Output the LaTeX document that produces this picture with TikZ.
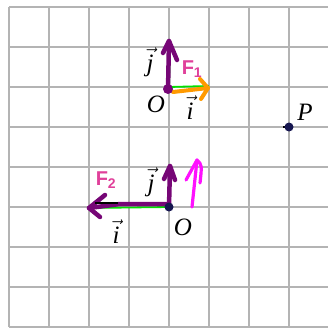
\documentclass[tikz,border=0pt]{standalone}
\usepackage{fontspec}
\setmainfont{Liberation Serif}
\setsansfont{Liberation Sans}
\definecolor{gridgray}{HTML}{B4B4B4}
\definecolor{vecpurple}{HTML}{760676}
\definecolor{vecgreen}{HTML}{00E000}
\definecolor{vecorange}{HTML}{FF9A00}
\definecolor{vecmagenta}{HTML}{FF10FF}
\definecolor{labpink}{HTML}{E0409A}
\definecolor{dotnavy}{HTML}{161650}
\begin{document}
\begin{tikzpicture}[x=1pt,y=1pt,
  gridline/.style={draw=gridgray, line width=2pt},
  greenvec/.style={draw=vecgreen, line width=1.8pt},
  purplevec/.style={draw=vecpurple, line width=4.5pt, line cap=round, line join=round},
  orangevec/.style={draw=vecorange, line width=4pt, line cap=round, line join=round},
  magentavec/.style={draw=vecmagenta, line width=3.2pt, line cap=round, line join=round},
  mathlab/.style={inner sep=0pt, font=\fontsize{25}{25}\selectfont},
  forcelab/.style={inner sep=0pt, text=labpink, font=\sffamily\bfseries\fontsize{20}{20}\selectfont},
  dotmark/.style={circle, inner sep=0pt, minimum size=9pt}]
\useasboundingbox (0,0) rectangle (328,327);
\begin{scope}
\clip (0,0) rectangle (328,327);
\foreach \k in {0,...,8} {
  \draw[gridline] (9+40*\k,0) -- (9+40*\k,320);
  \draw[gridline] (9,40*\k) -- (329,40*\k);
}
\end{scope}
% named points
\coordinate (O1) at (169,240);
\coordinate (O2) at (169,120);
\coordinate (g1j) at (170,280);
\coordinate (g1i) at (209,241);
\coordinate (g2j) at (171,160);
\coordinate (g2i) at (89,119);
% upper frame
\draw[greenvec] (O1) -- (g1j);
\draw[greenvec] (O1) -- (g1i);
\coordinate (p1s) at (168,237);
\coordinate (p1t) at (169,286);
\coordinate (p1l) at (163,274);
\coordinate (p1r) at (177,267);
\draw[purplevec] (p1s) -- (p1t);
\draw[purplevec] (p1l) -- (p1t) -- (p1r);
\coordinate (o1s) at (173,235);
\coordinate (o1t) at (208,239);
\coordinate (o1u) at (200,248);
\coordinate (o1d) at (201,228);
\draw[orangevec] (o1s) -- (o1t);
\draw[orangevec] (o1u) -- (o1t) -- (o1d);
\node[dotmark, fill=vecpurple, minimum size=10pt] (d1) at (168,238) {};
% lower frame
\draw[greenvec] (O2) -- (g2j);
\draw[greenvec] (O2) -- (g2i);
\coordinate (p2t) at (170,161);
\coordinate (p2l) at (164,148);
\coordinate (p2r) at (175,147);
\draw[purplevec] (O2) -- (p2t);
\draw[purplevec] (p2l) -- (p2t) -- (p2r);
\coordinate (q2s) at (168,123);
\coordinate (q2m) at (120,123);
\coordinate (q2t) at (89,119);
\coordinate (q2u) at (105,132);
\coordinate (q2d) at (100,110);
\draw[purplevec] (q2s) -- (q2m) -- (q2t);
\draw[purplevec] (q2u) -- (q2t) -- (q2d);
\coordinate (bk1) at (95,124);
\coordinate (bk2) at (118,124);
\draw[black, line width=1.8pt] (bk1) -- (bk2);
\node[dotmark, fill=dotnavy] (d2) at (O2) {};
% magenta stroke
\coordinate (m1) at (192,120);
\coordinate (m2) at (197,167);
\coordinate (m3) at (186,147);
\coordinate (m4) at (202,162);
\coordinate (m5) at (200,144);
\draw[magentavec] (m1) -- (m2);
\draw[magentavec] (m3) -- (m2) .. controls (m4) .. (m5);
% P
\coordinate (Pt) at (289,200);
\coordinate (Ptail) at (283,200);
\draw[black, line width=1.2pt] (Ptail) -- (Pt);
\node[dotmark] [fill=dotnavy] (Pd) at (Pt) {};
% labels
\node[mathlab] (j1) at (150,265) {$\vec{\hbox{\itshape j}}$};
\node[forcelab] (F1) at (192,258) {F\textsubscript{1}};
\node[mathlab] (O1l) at (156,223) {\itshape O};
\node[mathlab] (i1) at (190,219) {$\vec{\hbox{\itshape i}}$};
\node[mathlab] (Pl) at (305,215) {\itshape P};
\node[forcelab] (F2) at (106,147) {F\textsubscript{2}};
\node[mathlab] (j2) at (151,145) {$\vec{\hbox{\itshape j}}$};
\node[mathlab] (i2) at (116,95) {$\vec{\hbox{\itshape i}}$};
\node[mathlab] (O2l) at (183,100) {\itshape O};
\end{tikzpicture}
\end{document}
